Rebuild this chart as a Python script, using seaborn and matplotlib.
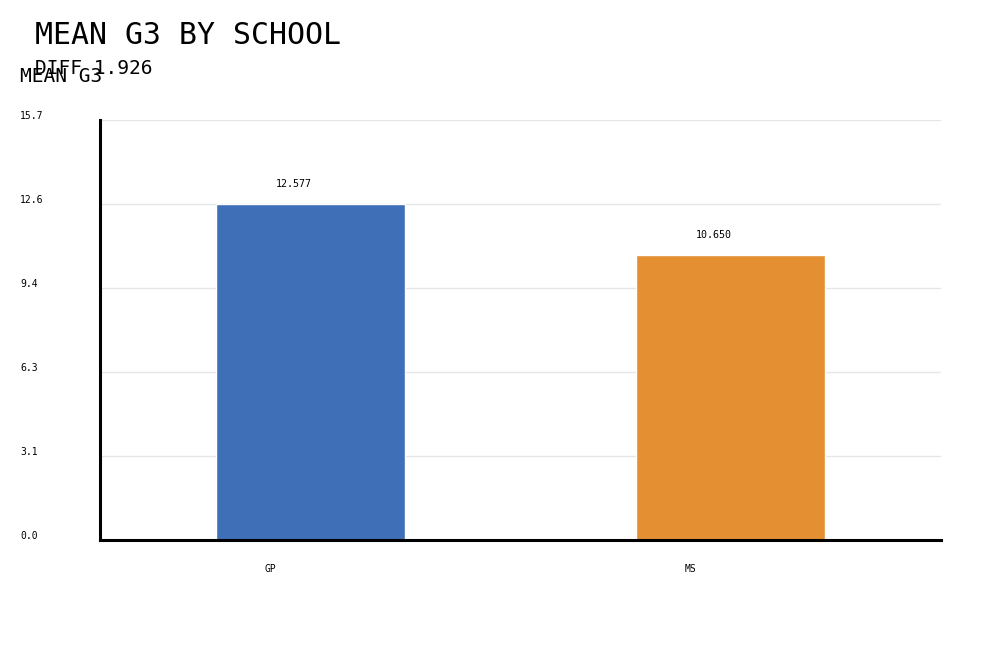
import numpy as np
import pandas as pd
import seaborn as sns
import matplotlib.pyplot as plt
from matplotlib.transforms import ScaledTranslation

schools = ["GP", "MS"]
mean_g3 = [12.577, 10.650]
bar_colors = ["#3F70B7", "#E38F32"]
title = "MEAN G3 BY SCHOOL"
subtitle = "DIFF 1.926"

df = pd.DataFrame({"school": schools, "g3": mean_g3})

sns.set_style("white")
plt.rcParams["font.family"] = ["DejaVu Sans Mono"]
plt.rcParams["text.color"] = "black"
plt.rcParams["xtick.color"] = "black"
plt.rcParams["ytick.color"] = "black"

fig = plt.figure(figsize=(10, 6.5), dpi=100)
ax = fig.add_axes([0.1, 0.1692, 0.841, 0.6462])

sns.barplot(data=df, x="school", y="g3", hue="school", palette=bar_colors,
            width=0.45, legend=False, saturation=1, ax=ax)

ymax = 15.72
ax.set_xlim(-0.5, 1.5)
ax.set_ylim(0, ymax)
yt = np.linspace(0, ymax, 6)
ax.set_yticks(yt)
ax.set_yticklabels([f"{v:.1f}" for v in yt], fontsize=7)
ax.yaxis.grid(True, color="#e6e6e6", linewidth=1)
ax.set_axisbelow(True)

for s in ["top", "right"]:
    ax.spines[s].set_visible(False)
for s in ["left", "bottom"]:
    ax.spines[s].set_color("black")
    ax.spines[s].set_linewidth(2.2)

ax.tick_params(axis="both", length=0, labelcolor="black")
ax.tick_params(axis="y", pad=0)
ax.tick_params(axis="x", pad=17.5, labelsize=7)

for lab in ax.get_yticklabels():
    lab.set_ha("left")
    lab.set_transform(lab.get_transform() + ScaledTranslation(-0.8, 0.05, fig.dpi_scale_trans))
for lab in ax.get_xticklabels():
    lab.set_transform(lab.get_transform() + ScaledTranslation(-0.4, 0, fig.dpi_scale_trans))

# value labels above bars
for i, v in enumerate(mean_g3):
    ax.annotate(f"{v:.3f}", (i, v), xytext=(-12, 11), textcoords="offset points",
                ha="center", va="bottom", fontsize=7.2, color="black")

ax.set_xlabel("")
ax.set_ylabel("")

fig.text(0.035, 1 - 35 / 650, title, fontsize=21.5, va="center", ha="left")
fig.text(0.035, 1 - 68 / 650, subtitle, fontsize=14, va="center", ha="left")
fig.text(0.02, 1 - 77 / 650, "MEAN G3", fontsize=14, va="center", ha="left")

fig.savefig("out.png", dpi=100)
